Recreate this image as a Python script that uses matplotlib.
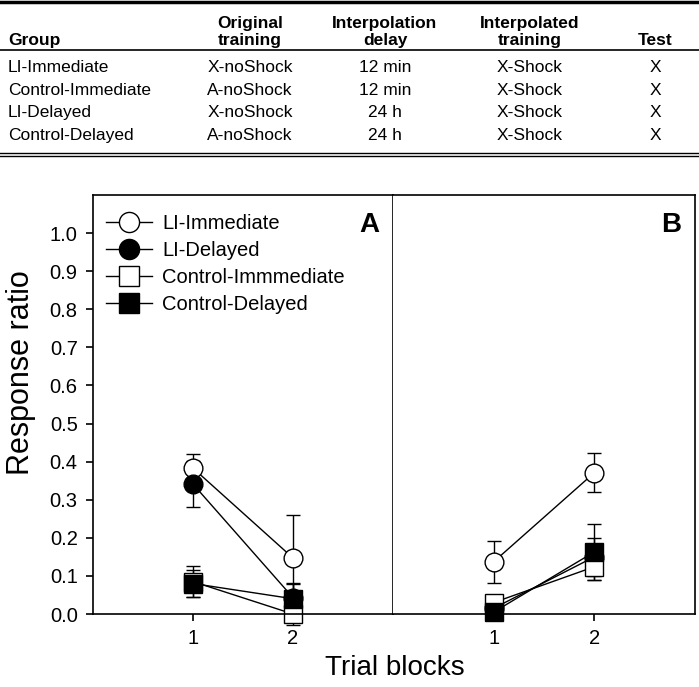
import matplotlib.pyplot as plt
from matplotlib.lines import Line2D

plt.rcParams['font.family'] = ['Liberation Sans', 'DejaVu Sans']

# Table contents
table_header = ["Group", "Original\ntraining", "Interpolation\ndelay",
                "Interpolated\ntraining", "Test"]
table_rows = [
    ["LI-Immediate", "X-noShock", "12 min", "X-Shock", "X"],
    ["Control-Immediate", "A-noShock", "12 min", "X-Shock", "X"],
    ["LI-Delayed", "X-noShock", "24 h", "X-Shock", "X"],
    ["Control-Delayed", "A-noShock", "24 h", "X-Shock", "X"],
]

# Chart data
blocks = [1, 2]
groups = ["LI-Immediate", "LI-Delayed", "Control-Immmediate", "Control-Delayed"]
markers = ["o", "o", "s", "s"]
fills = ["white", "black", "white", "black"]

# Panel A
a_means = [[0.383, 0.147], [0.341, 0.043], [0.085, 0.0], [0.080, 0.040]]
a_errs = [[0.037, 0.113], [0.061, 0.038], [0.040, 0.030], [0.035, 0.040]]
# Panel B
b_means = [[0.137, 0.371], [0.015, 0.150], [0.030, 0.124], [0.005, 0.163]]
b_errs = [[0.055, 0.052], [0.010, 0.050], [0.015, 0.035], [0.008, 0.073]]

fig = plt.figure(figsize=(6.99, 6.87), dpi=100)

# ---- table drawn with figure text ----
def fy(px):
    return 1 - px / 687.0

col_x = [8, 250, 385, 530, 655]
col_ha = ["left", "center", "center", "center", "center"]
for x, txt, ha in zip(col_x, table_header, col_ha):
    fig.text(x / 699.0, fy(45), txt, ha=ha, va="baseline", fontsize=12.5,
             fontweight="bold", linespacing=1.2)
row_base = [72, 95, 117, 140]
for y, row in zip(row_base, table_rows):
    for x, txt, ha in zip(col_x, row, col_ha):
        fig.text(x / 699.0, fy(y), txt, ha=ha, va="baseline", fontsize=12.5)

for y, lw in [(1.5, 2.5), (50, 1.2), (153, 1.0), (156, 1.0)]:
    fig.add_artist(Line2D([0, 1], [fy(y), fy(y)], color="black", lw=lw,
                          transform=fig.transFigure))

# ---- two panels ----
bottom = 1 - 614 / 687.0
height = (614 - 195) / 687.0
axA = fig.add_axes([93 / 699.0, bottom, 300 / 699.0, height])
axB = fig.add_axes([393 / 699.0, bottom, 302 / 699.0, height])

for ax, means, errs, letter in [(axA, a_means, a_errs, "A"),
                                 (axB, b_means, b_errs, "B")]:
    for name, m, e, mk, fc in zip(groups, means, errs, markers, fills):
        ax.errorbar(blocks, m, yerr=e, color="black", lw=1.0, capsize=5,
                    capthick=1.0, elinewidth=1.0, marker=mk, markersize=13.5,
                    markerfacecolor=fc, markeredgecolor="black",
                    markeredgewidth=1.0, clip_on=False)
    ax.set_xlim(0, 3)
    ax.set_ylim(0, 1.1)
    ax.set_xticks(blocks)
    ax.tick_params(direction="out", length=5, width=1.2, labelsize=14.5,
                   pad=6)
    for sp in ax.spines.values():
        sp.set_linewidth(1.2)
    ax.text(0.955, 0.96, letter, transform=ax.transAxes, ha="right",
            va="top", fontsize=20, fontweight="bold")

axA.set_yticks([i / 10 for i in range(11)])
axA.set_yticklabels(["%.1f" % (i / 10) for i in range(11)])
axB.tick_params(axis="y", left=False, labelleft=False)
axB.spines["left"].set_visible(False)

fig.text(21 / 699.0, fy(373), "Response ratio", rotation=90, ha="center",
         va="center", fontsize=22)
fig.text((93 + 603 / 2) / 699.0, fy(668), "Trial blocks", ha="center",
         va="center", fontsize=20)

handles = [Line2D([], [], color="black", lw=1.0, marker=mk, markersize=14.5,
                  markerfacecolor=fc, markeredgecolor="black",
                  markeredgewidth=1.0)
           for mk, fc in zip(markers, fills)]
axA.legend(handles, groups, loc="upper left", bbox_to_anchor=(0, 0.986),
           frameon=False, fontsize=14.5, handlelength=2.3,
           borderaxespad=0.35, labelspacing=0.4, handletextpad=0.5,
           borderpad=0.3)

fig.savefig("out.png", dpi=100)
